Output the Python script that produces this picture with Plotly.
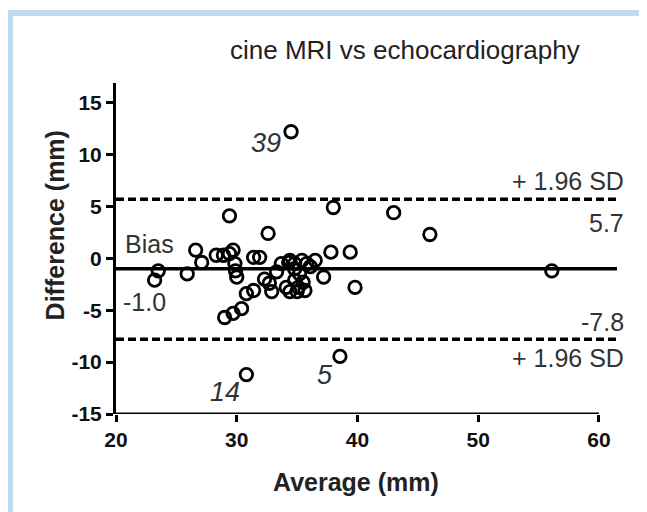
import plotly.graph_objects as go

# ---- data ----
average_mm = [23.2, 23.5, 25.9, 26.6, 27.1, 28.3, 28.9, 29.4, 29.7, 29.85,
              29.9, 30.0, 29.0, 29.7, 30.4, 30.8, 31.4, 31.4, 31.9, 32.6,
              32.3, 32.7, 32.9, 33.3, 33.7, 34.3, 34.4, 34.8, 35.0, 35.4,
              35.5, 35.65, 34.8, 36.1, 36.5, 37.2, 37.8, 39.4, 39.8, 29.4,
              38.0, 43.0, 46.0, 56.1, 34.5, 30.8, 38.55, 35.2, 35.1, 34.1,
              34.4, 34.8, 35.8]
difference_mm = [-2.1, -1.2, -1.5, 0.8, -0.4, 0.3, 0.3, 0.45, 0.8, -0.5,
                 -1.2, -1.8, -5.7, -5.3, -4.85, -3.4, -3.1, 0.1, 0.1, 2.4,
                 -2.0, -2.4, -3.2, -1.3, -0.5, -0.4, -3.2, -1.0, -3.2, -0.2,
                 -2.3, -3.1, -2.1, -0.8, -0.2, -1.8, 0.6, 0.6, -2.8, 4.1,
                 4.9, 4.4, 2.3, -1.2, 12.2, -11.2, -9.45, -1.5, -2.8, -2.8,
                 -0.2, -0.5, -0.5]
bias = -1.0
upper_loa = 5.7
lower_loa = -7.8
outlier_ids = ["39", "14", "5"]
outlier_x = [32.42, 29.03, 37.31]
outlier_y = [11.09, -12.92, -11.28]
x_ticks = [20, 30, 40, 50, 60]
y_ticks = [-15, -10, -5, 0, 5, 10, 15]

X_START, X_END = 20, 61.5

# helpers: screen pixel -> paper fraction (plot area 116..617 x, 83..413.6 y)
def px(xp):
    return (xp - 116) / 501.0

def py(yp):
    return (413.6 - yp) / 331.0

fig = go.Figure()

line_w = 3.6
fig.add_trace(go.Scatter(x=[X_START, X_END], y=[upper_loa, upper_loa], mode="lines",
                         line=dict(color="black", width=line_w, dash="8px,4px"),
                         hoverinfo="skip"))
fig.add_trace(go.Scatter(x=[X_START, X_END], y=[lower_loa, lower_loa], mode="lines",
                         line=dict(color="black", width=line_w, dash="8px,4px"),
                         hoverinfo="skip"))
fig.add_trace(go.Scatter(x=[X_START, X_END], y=[bias, bias], mode="lines",
                         line=dict(color="black", width=line_w), hoverinfo="skip"))
fig.add_trace(go.Scatter(x=average_mm, y=difference_mm, mode="markers",
                         marker=dict(symbol="circle", size=12.5, color="rgba(0,0,0,0)",
                                     line=dict(color="black", width=2.8))))

# x axis line only from 20 to 60
fig.add_shape(type="line", x0=20, x1=60, y0=-15, y1=-15, xref="x", yref="y",
              line=dict(color="black", width=3))

# light blue frame
fig.add_shape(type="rect", xref="paper", yref="paper",
              x0=px(10), x1=px(645), y0=py(530), y1=py(12.5),
              line=dict(color="#bddded", width=6), fillcolor="rgba(0,0,0,0)", layer="below")

FONT = "Liberation Sans, Arial"
ann_font = dict(family=FONT, size=25, color="#333333")
anns = [
    dict(x=px(123), y=py(244), text="Bias", xanchor="left"),
    dict(x=px(121), y=py(302), text=f"{bias:.1f}", xanchor="left"),
    dict(x=px(626), y=py(181), text="+ 1.96 SD", xanchor="right"),
    dict(x=px(626), y=py(223), text=f"{upper_loa:.1f}", xanchor="right"),
    dict(x=px(626), y=py(322), text=f"{lower_loa:.1f}", xanchor="right"),
    dict(x=px(626), y=py(358), text="+ 1.96 SD", xanchor="right"),
]
for a in anns:
    fig.add_annotation(xref="paper", yref="paper", showarrow=False, yanchor="middle",
                       font=ann_font, **a)
for t, x, y in zip(outlier_ids, outlier_x, outlier_y):
    fig.add_annotation(xref="x", yref="y", x=x, y=y, text=f"<i>{t}</i>", showarrow=False,
                       xanchor="center", yanchor="middle",
                       font=dict(family=FONT, size=27, color="#333333"))

# axis titles
fig.add_annotation(xref="paper", yref="paper", x=px(55), y=py(225),
                   text="<b>Difference (mm)</b>", textangle=-90, showarrow=False,
                   xanchor="center", yanchor="middle",
                   font=dict(family=FONT, size=25, color="#222222"))
fig.add_annotation(xref="paper", yref="paper", x=px(356), y=py(482),
                   text="<b>Average (mm)</b>", showarrow=False,
                   xanchor="center", yanchor="middle",
                   font=dict(family=FONT, size=25, color="#222222"))
# title
fig.add_annotation(xref="paper", yref="paper", x=px(405), y=py(50),
                   text="cine MRI vs echocardiography", showarrow=False,
                   xanchor="center", yanchor="middle",
                   font=dict(family=FONT, size=26, color="#222222"))

tick_font = dict(family=FONT, size=21, color="#111111", weight="bold")
fig.update_xaxes(range=[X_START, X_END], tickvals=x_ticks, ticktext=[str(v) for v in x_ticks],
                 showline=False, showgrid=False, zeroline=False,
                 ticks="outside", ticklen=7, tickwidth=3, tickcolor="black",
                 tickfont=tick_font)
fig.update_yaxes(range=[-15, 16.9], tickvals=y_ticks, ticktext=[str(v) for v in y_ticks],
                 showline=True, linewidth=3, linecolor="black", showgrid=False, zeroline=False,
                 ticks="outside", ticklen=7, tickwidth=3, tickcolor="black",
                 tickfont=tick_font)

# the page adds an 8px body margin, so the figure is drawn 8px smaller/offset
fig.update_layout(width=639, height=504, showlegend=False,
                  margin=dict(l=108, r=30, t=75, b=98),
                  paper_bgcolor="white", plot_bgcolor="white")

fig.write_html("out.html")
